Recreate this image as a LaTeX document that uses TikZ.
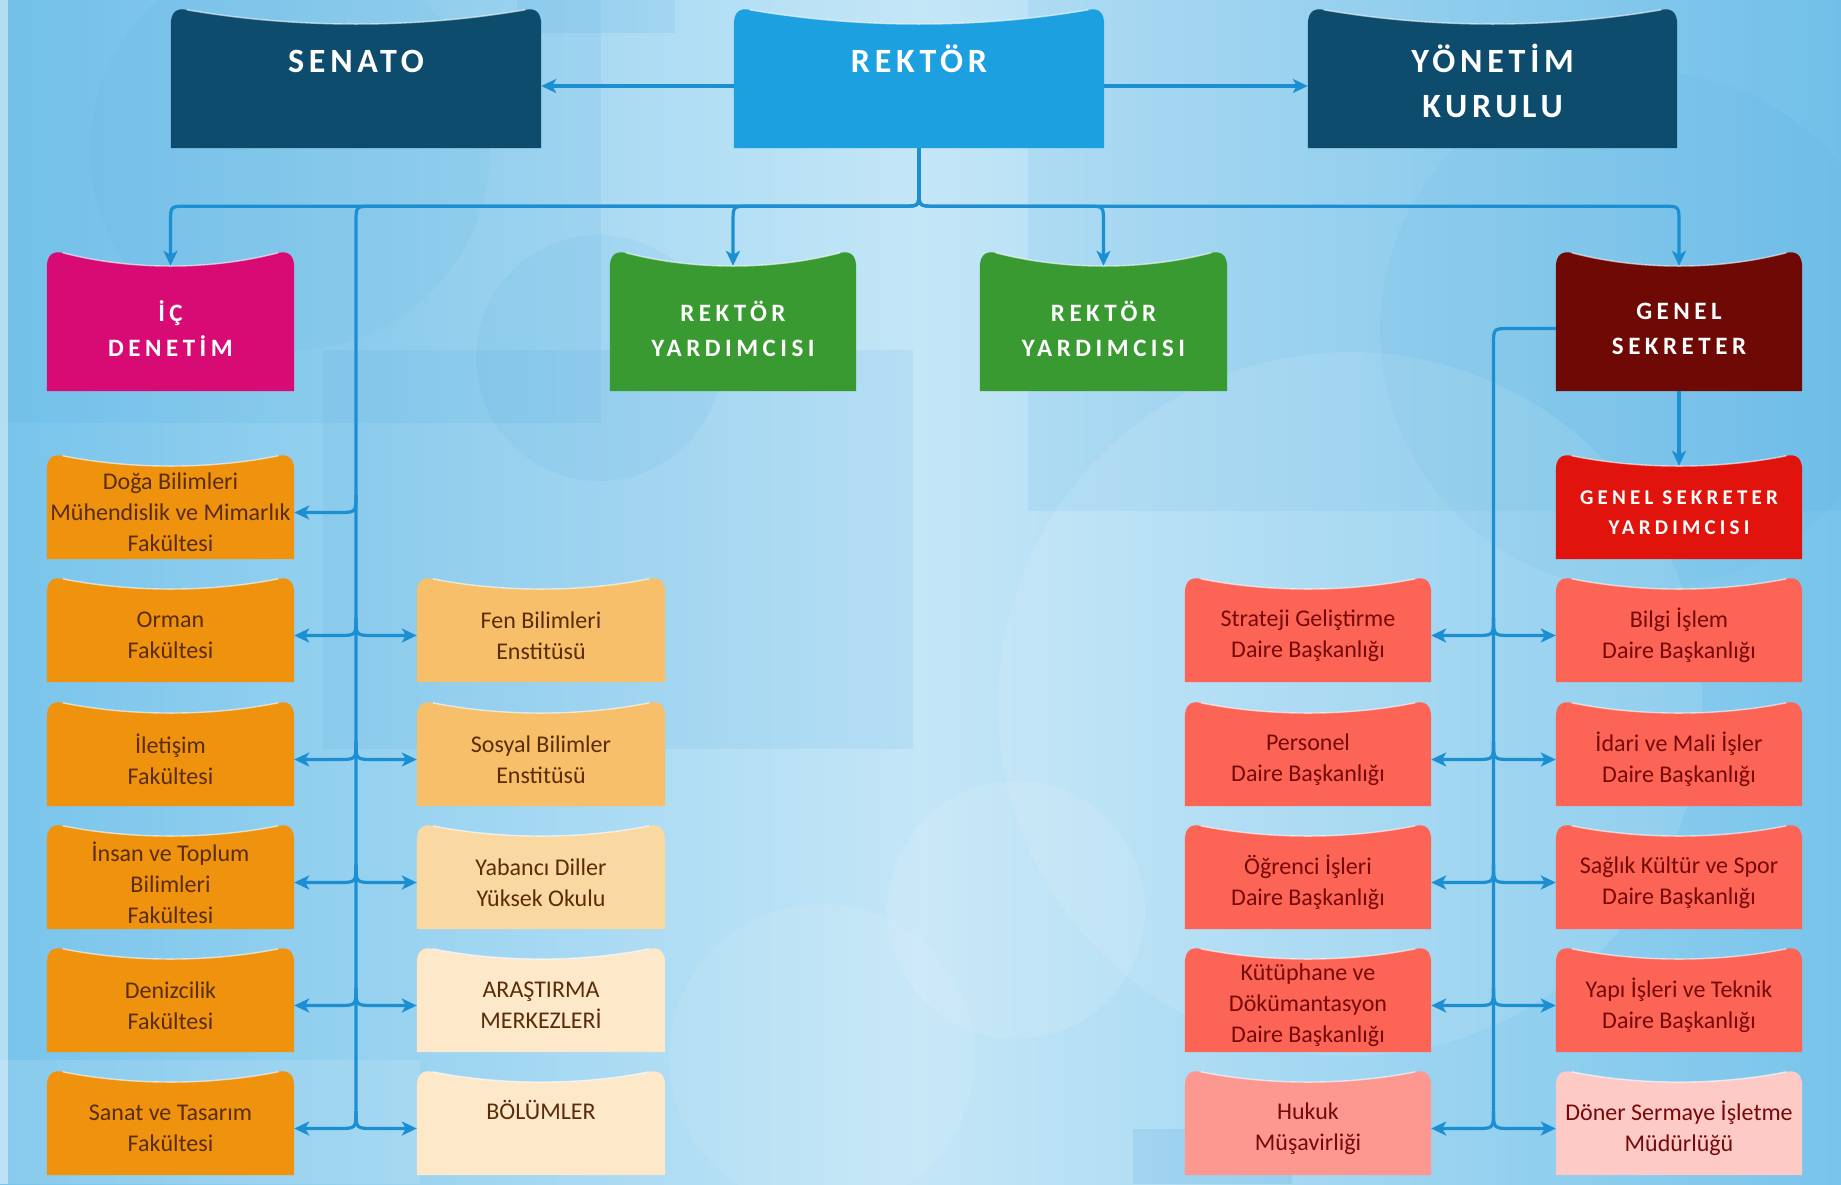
\documentclass[tikz,border=0pt]{standalone}
\usepackage{fontspec}
\setmainfont{Carlito}
\newfontfamily\hdfontA{Carlito}[LetterSpace=14]
\newfontfamily\hdfontB{Carlito}[LetterSpace=18]
\newfontfamily\hdfontC{Carlito}[LetterSpace=20]
\usetikzlibrary{calc,arrows.meta,backgrounds}
\pgfdeclarelayer{sky}
\pgfsetlayers{sky,background,main}

\definecolor{cSkyA}{HTML}{78C4EB}
\definecolor{cSkyB}{HTML}{C4E6F7}
\definecolor{cSkyD}{HTML}{3F9FDA}
\definecolor{cConn}{HTML}{1C8FD3}
\definecolor{cSen}{HTML}{0E4C6D}
\definecolor{cRek}{HTML}{1DA0E0}
\definecolor{cIcd}{HTML}{D80A74}
\definecolor{cRy}{HTML}{389A30}
\definecolor{cGs}{HTML}{6E0906}
\definecolor{cGsy}{HTML}{E0140C}
\definecolor{cOr}{HTML}{EF930E}
\definecolor{cLa}{HTML}{F7BF69}
\definecolor{cLb}{HTML}{FAD8A2}
\definecolor{cLc}{HTML}{FDE8CA}
\definecolor{cRed}{HTML}{FC6456}
\definecolor{cHuk}{HTML}{FC9890}
\definecolor{cDon}{HTML}{FDCAC6}
\definecolor{tBrown}{HTML}{5A2C08}
\definecolor{tRed}{HTML}{760A0A}

\tikzset{
  conn/.style={draw=cConn, line width=3.2pt},
  arr/.style={-{Stealth[length=15pt,width=14pt,inset=4pt]}},
  hdA/.style={text=white, align=center, font=\hdfontA\bfseries\fontsize{34}{45}\selectfont},
  hdB/.style={text=white, align=center, font=\hdfontB\bfseries\fontsize{25}{35}\selectfont},
  hdC/.style={text=white, align=center, font=\hdfontC\bfseries\fontsize{21}{30}\selectfont},
  bodyO/.style={text=tBrown, align=center, font=\fontsize{24}{31}\selectfont},
  bodyR/.style={text=tRed, align=center, font=\fontsize{24}{31}\selectfont},
  edge hi/.style={draw=white, opacity=.6, line width=1.4pt}
}

% #1 name, #2 centre x, #3 top y, #4 width, #5 height, #6 dip, #7 fill, #8 text style, #9 text
\newcommand\wbox[9]{%
  \node[#8, minimum width=#4pt, minimum height={#5pt-#6pt}, inner sep=0pt] (#1) at (#2,{#3+(#5+#6)/2}) {#9};
  \begin{pgfonlayer}{background}
    \fill[#7] (#1.south west) -- ($(#1.north west)+(0,{-#6+16})$)
      .. controls ($(#1.north west)+(0,{-#6+3})$) and ($(#1.north west)+(6,{-#6-1})$) .. ($(#1.north west)+(16,{-#6+1})$)
      .. controls ($(#1.north west)+({0.34*#4},{#6/3})$) and ($(#1.north east)+({-0.34*#4},{#6/3})$) .. ($(#1.north east)+(-16,{-#6+1})$)
      .. controls ($(#1.north east)+(-6,{-#6-1})$) and ($(#1.north east)+(0,{-#6+3})$) .. ($(#1.north east)+(0,{-#6+16})$)
      -- (#1.south east) -- cycle;
    \draw[edge hi] ($(#1.north west)+(16,{-#6+1})$)
      .. controls ($(#1.north west)+({0.34*#4},{#6/3})$) and ($(#1.north east)+({-0.34*#4},{#6/3})$) .. ($(#1.north east)+(-16,{-#6+1})$);
  \end{pgfonlayer}}

\newcommand\dropL[1]{%
  \draw[conn,arr] (rektor.south) -- ($(bj)+(0,-16)$) .. controls (bj) .. ($(bj)+(-16,0)$)
    -- ($(bj -| #1.north)+(16,0)$) .. controls (bj -| #1.north) .. ($(bj -| #1.north)+(0,16)$) -- (#1.north);}
\newcommand\dropR[1]{%
  \draw[conn,arr] (rektor.south) -- ($(bj)+(0,-16)$) .. controls (bj) .. ($(bj)+(16,0)$)
    -- ($(bj -| #1.north)+(-16,0)$) .. controls (bj -| #1.north) .. ($(bj -| #1.north)+(0,16)$) -- (#1.north);}
\newcommand\branchL[2]{%
  \draw[conn,arr] ($(#1 |- #2.east)+(0,-18)$) .. controls (#1 |- #2.east) .. ($(#1 |- #2.east)+(-18,0)$) -- (#2.east);}
\newcommand\branchR[2]{%
  \draw[conn,arr] ($(#1 |- #2.west)+(0,-18)$) .. controls (#1 |- #2.west) .. ($(#1 |- #2.west)+(18,0)$) -- (#2.west);}

\begin{document}
\begin{tikzpicture}[x=1pt,y=-1pt]
\useasboundingbox (0,0) rectangle (1841,1184);
\begin{pgfonlayer}{sky}
  \shade[left color=cSkyA, right color=cSkyA, middle color=cSkyB] (0,0) rectangle (1841,1184);
  \fill[cSkyD, opacity=.10] (0,0) rectangle (601,423);
  \fill[cSkyD, opacity=.10] (323,350) rectangle (913,749);
  \fill[cSkyD, opacity=.10] (1028,0) rectangle (1841,511);
  \fill[cSkyD, opacity=.12] (517,0) rectangle (675,33);
  \fill[cSkyD, opacity=.15] (1133,1129) rectangle (1292,1184);
  \fill[white, opacity=.10] (1350,704) circle (352);
  \fill[cSkyD, opacity=.08] (599,358) circle (123);
  \fill[white, opacity=.10] (1016,910) circle (129);
  \fill[white, opacity=.08] (822,1057) circle (153);
  \fill[cSkyD, opacity=.06] (290,150) circle (200);
  \fill[cSkyD, opacity=.06] (1640,330) circle (260);
  \fill[white, opacity=.12] (0,1060) rectangle (420,1184);
  \fill[white, opacity=.45] (0,0) rectangle (8,1184);
\end{pgfonlayer}

% top row
\wbox{senato}{356}{9}{370}{139}{15}{cSen}{hdA}{\strut SENATO\\\strut}
\wbox{rektor}{919}{9}{370}{139}{15}{cRek}{hdA}{\strut REKTÖR\\\strut}
\wbox{yonetim}{1492.5}{9}{369}{139}{15}{cSen}{hdA}{\strut YÖNETİM\\\strut KURULU}

% second row
\wbox{icd}{170.5}{252}{247}{139}{14}{cIcd}{hdB}{İÇ\\DENETİM}
\wbox{ry1}{733}{252}{246}{139}{14}{cRy}{hdB}{REKTÖR\\YARDIMCISI}
\wbox{ry2}{1103.5}{252}{247}{139}{14}{cRy}{hdB}{REKTÖR\\YARDIMCISI}
\wbox{gs}{1679}{252}{246}{139}{14}{cGs}{hdB}{GENEL\\SEKRETER}

% left block
\wbox{doga}{170.5}{455}{247}{104}{11}{cOr}{bodyO}{Doğa Bilimleri\\Mühendislik ve Mimarlık\\Fakültesi}
\wbox{orman}{170.5}{578}{247}{104}{11}{cOr}{bodyO}{Orman\\Fakültesi}
\wbox{iletisim}{170.5}{702}{247}{104}{11}{cOr}{bodyO}{İletişim\\Fakültesi}
\wbox{insan}{170.5}{825}{247}{104}{11}{cOr}{bodyO}{İnsan ve Toplum\\Bilimleri\\Fakültesi}
\wbox{deniz}{170.5}{948}{247}{104}{11}{cOr}{bodyO}{Denizcilik\\Fakültesi}
\wbox{sanat}{170.5}{1071}{247}{104}{11}{cOr}{bodyO}{Sanat ve Tasarım\\Fakültesi}

\wbox{fen}{541}{578}{248}{104}{11}{cLa}{bodyO}{Fen Bilimleri\\Enstitüsü}
\wbox{sosyal}{541}{702}{248}{104}{11}{cLa}{bodyO}{Sosyal Bilimler\\Enstitüsü}
\wbox{yabanci}{541}{825}{248}{104}{11}{cLb}{bodyO}{Yabancı Diller\\Yüksek Okulu}
\wbox{arastirma}{541}{948}{248}{104}{11}{cLc}{bodyO}{ARAŞTIRMA\\MERKEZLERİ}
\wbox{bolumler}{541}{1071}{248}{104}{11}{cLc}{bodyO}{\strut BÖLÜMLER\\\strut}

% right block
\wbox{gsy}{1679}{455}{246}{104}{11}{cGsy}{hdC}{GENEL SEKRETER\\YARDIMCISI}
\wbox{strateji}{1308}{578}{246}{104}{11}{cRed}{bodyR}{Strateji Geliştirme\\Daire Başkanlığı}
\wbox{personel}{1308}{702}{246}{104}{11}{cRed}{bodyR}{Personel\\Daire Başkanlığı}
\wbox{ogrenci}{1308}{825}{246}{104}{11}{cRed}{bodyR}{Öğrenci İşleri\\Daire Başkanlığı}
\wbox{kutuphane}{1308}{948}{246}{104}{11}{cRed}{bodyR}{Kütüphane ve\\Dökümantasyon\\Daire Başkanlığı}
\wbox{hukuk}{1308}{1071}{246}{104}{11}{cHuk}{bodyR}{Hukuk\\Müşavirliği}

\wbox{bilgi}{1679}{578}{246}{104}{11}{cRed}{bodyR}{Bilgi İşlem\\Daire Başkanlığı}
\wbox{idari}{1679}{702}{246}{104}{11}{cRed}{bodyR}{İdari ve Mali İşler\\Daire Başkanlığı}
\wbox{saglik}{1679}{825}{246}{104}{11}{cRed}{bodyR}{Sağlık Kültür ve Spor\\Daire Başkanlığı}
\wbox{yapi}{1679}{948}{246}{104}{11}{cRed}{bodyR}{Yapı İşleri ve Teknik\\Daire Başkanlığı}
\wbox{doner}{1679}{1071}{246}{104}{11}{cDon}{bodyR}{Döner Sermaye İşletme\\Müdürlüğü}

% connectors: top row
\draw[conn,arr] (rektor.west) -- (senato.east);
\draw[conn,arr] (rektor.east) -- (yonetim.west);

\coordinate (bj) at ($(rektor.south)+(0,58)$);
\coordinate (lt) at (356,0);
\coordinate (rt) at (1493.5,0);

\dropL{icd}
\dropL{ry1}
\dropR{ry2}
\dropR{gs}

% left trunk
\draw[conn] (rektor.south) -- ($(bj)+(0,-16)$) .. controls (bj) .. ($(bj)+(-16,0)$)
  -- ($(bj -| lt)+(16,0)$) .. controls (bj -| lt) .. ($(bj -| lt)+(0,16)$)
  -- ($(lt |- sanat.east)+(0,-18)$);
\branchL{lt}{doga}
\branchL{lt}{orman}    \branchR{lt}{fen}
\branchL{lt}{iletisim} \branchR{lt}{sosyal}
\branchL{lt}{insan}    \branchR{lt}{yabanci}
\branchL{lt}{deniz}    \branchR{lt}{arastirma}
\branchL{lt}{sanat}    \branchR{lt}{bolumler}

% right trunk
\draw[conn,arr] (gs.south) -- (gsy.north);
\draw[conn] (gs.west) -- ($(gs.west -| rt)+(16,0)$) .. controls (gs.west -| rt) .. ($(gs.west -| rt)+(0,16)$)
  -- ($(rt |- hukuk.east)+(0,-18)$);
\branchL{rt}{strateji}  \branchR{rt}{bilgi}
\branchL{rt}{personel}  \branchR{rt}{idari}
\branchL{rt}{ogrenci}   \branchR{rt}{saglik}
\branchL{rt}{kutuphane} \branchR{rt}{yapi}
\branchL{rt}{hukuk}     \branchR{rt}{doner}
\end{tikzpicture}
\end{document}
